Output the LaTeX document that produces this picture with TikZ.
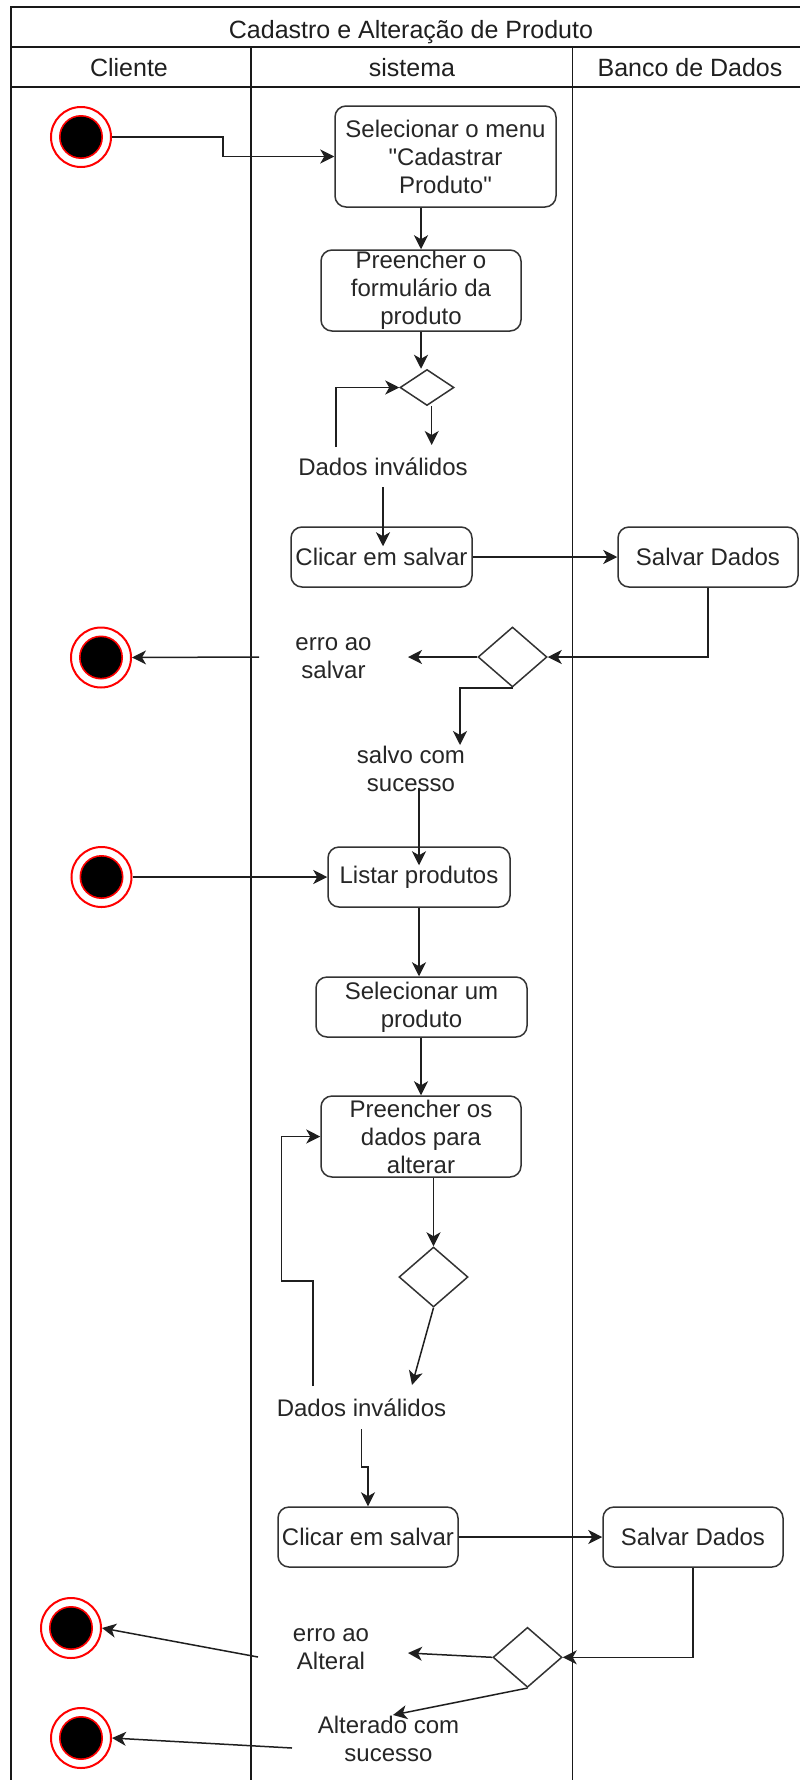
\documentclass[tikz,border=0pt]{standalone}
\usepackage{fontspec}
\setmainfont{Liberation Sans}[Ligatures=TeXOff]
\usetikzlibrary{shapes.geometric,arrows.meta}
\begin{document}
\begin{tikzpicture}[x=1pt,y=-1pt,
  frame/.style={line width=1.6pt, draw=black!90},
  ln/.style={line width=1.5pt, draw=black!88},
  arr/.style={ln, -{Stealth[length=14pt,width=14pt,inset=4pt]}},
  act/.style={draw=black!80, line width=1.5pt, rounded corners=11pt, fill=white, align=center, inner sep=0pt, font=\fontsize{24}{28}\selectfont, text=black!85},
  dec/.style={diamond, draw=black!80, line width=1.5pt, fill=white, inner sep=0pt},
  lbl/.style={align=center, inner sep=0pt, font=\fontsize{24}{28}\selectfont, text=black!85},
  endst/.style={circle, draw=red, line width=2pt, fill=white, minimum size=60pt, inner sep=0pt,
    path picture={\fill[red] (path picture bounding box.center) circle[radius=22pt];
                  \fill[black] (path picture bounding box.center) circle[radius=20.3pt];}},
  hdr/.style={anchor=base, inner sep=0pt, font=\fontsize{25}{30}\selectfont, text=black!88}
]
\useasboundingbox (0,0) rectangle (800,1780);
% swimlane frame
\draw[frame] (11,1780) -- (11,7) -- (800,7);
\draw[frame] (11,47) -- (800,47);
\draw[frame] (11,87) -- (800,87);
\draw[frame] (251,47) -- (251,1780);
\draw[frame] (572.5,47) -- (572.5,1780);
\node[hdr] (title) at (411,38.5) {Cadastro e Alteração de Produto};
\node[hdr] (h1) at (129,76.5) {Cliente};
\node[hdr] (h2) at (412,76.5) {sistema};
\node[hdr] (h3) at (690,76.5) {Banco de Dados};

% nodes
\node[endst] (s1) at (81,137) {};
\node[act, minimum width=221pt, minimum height=101pt] (b1) at (445.5,156.5) {Selecionar o menu\\"Cadastrar\\Produto"};
\node[act, minimum width=200pt, minimum height=81pt] (b2) at (421,290.5) {Preencher o\\formulário da\\produto};
\node[dec, minimum width=54pt, minimum height=36pt] (d1) at (427,387.5) {};
\node[lbl] (l1) at (383,467) {Dados inválidos};
\node[act, minimum width=181pt, minimum height=60pt] (b3) at (381.5,557) {Clicar em salvar};
\node[act, minimum width=180pt, minimum height=60pt] (b4) at (708,557) {Salvar Dados};
\node[dec, minimum width=69pt, minimum height=60pt] (d2) at (512.5,657) {};
\node[lbl] (l2) at (333.5,658) {erro ao\\salvar};
\node[endst] (e2) at (101,657.5) {};
\node[lbl] (l3) at (411,769) {salvo com\\sucesso};
\node[act, minimum width=182pt, minimum height=60pt] (b5) at (419,877) {Listar produtos};
\node[endst] (s3) at (101.5,877) {};
\node[act, minimum width=211pt, minimum height=60pt] (b6) at (421.5,1007) {Selecionar um\\produto};
\node[act, minimum width=200pt, minimum height=81pt] (b7) at (421,1136.5) {Preencher os\\dados para\\alterar};
\node[dec, minimum width=69pt, minimum height=60pt] (d3) at (433.5,1277) {};
\node[lbl] (l4) at (361.5,1408) {Dados inválidos};
\node[act, minimum width=180pt, minimum height=60pt] (b8) at (368,1537) {Clicar em salvar};
\node[act, minimum width=180pt, minimum height=60pt] (b9) at (693,1537) {Salvar Dados};
\node[dec, minimum width=69pt, minimum height=60pt] (d4) at (527.5,1657.3) {};
\node[lbl] (l5) at (331,1649) {erro ao\\Alteral};
\node[endst] (e4) at (71,1628) {};
\node[lbl] (l6) at (388.5,1739) {Alterado com\\sucesso};
\node[endst] (e5) at (81,1738) {};

% bend points
\coordinate (k1) at (223,137);
\coordinate (k2) at (313,1281);
\coordinate (k3) at (281.7,1281);
\coordinate (k4) at (361.5,1467);

% connectors
\draw[arr] (s1.east) -- (k1) |- (b1.west);
\draw[arr] (b1.south -| b2.north) -- (b2.north);
\draw[arr] (b2.south) -- (b2.south |- d1.north);
\draw[arr] ([xshift=4.7pt]d1.south) -- ([xshift=48.7pt,yshift=22pt]l1.center);
\draw[arr] ([xshift=-47pt,yshift=20pt]l1.center) |- (d1.west);
\draw[arr] ([yshift=-20pt]l1.center) -- ([yshift=-20pt]l1.center |- b3.north);
\draw[arr] (b3.east) -- (b4.west);
\draw[arr] (b4.south) |- (d2.east);
\draw[arr] (d2.west) -- ([xshift=74.5pt]l2.center |- d2.west);
\draw[arr] ([xshift=-74.5pt]l2.center |- d2.west) -- (e2.east);
\draw[arr] (d2.south) -| ([xshift=49pt,yshift=24pt]l3.center);
\draw[arr] ([xshift=8pt,yshift=-19pt]l3.center) -- ([xshift=8pt,yshift=-19pt]l3.center |- b5.north);
\draw[arr] (s3.east) -- (b5.west);
\draw[arr] (b5.south) -- (b5.south |- b6.north);
\draw[arr] (b6.south -| b7.north) -- (b7.north);
\draw[arr] (b7.south -| d3.north) -- (d3.north);
\draw[arr] (d3.south) -- ([xshift=50.5pt,yshift=23pt]l4.center);
\draw[arr] ([xshift=-48.5pt,yshift=22pt]l4.center) -- (k2) -- (k3) |- (b7.west);
\draw[arr] ([yshift=-21pt]l4.center) -- (k4) -| (b8.north);
\draw[arr] (b8.east) -- (b9.west);
\draw[arr] (b9.south) |- (d4.east);
\draw[arr] (d4.west) -- ([xshift=77pt,yshift=-4pt]l5.center);
\draw[arr] ([xshift=-73pt,yshift=-8pt]l5.center) -- (e4.east);
\draw[arr] (d4.south) -- ([xshift=4.5pt,yshift=24pt]l6.center);
\draw[arr] ([xshift=-96.5pt,yshift=-9pt]l6.center) -- (e5.east);
\end{tikzpicture}
\end{document}
